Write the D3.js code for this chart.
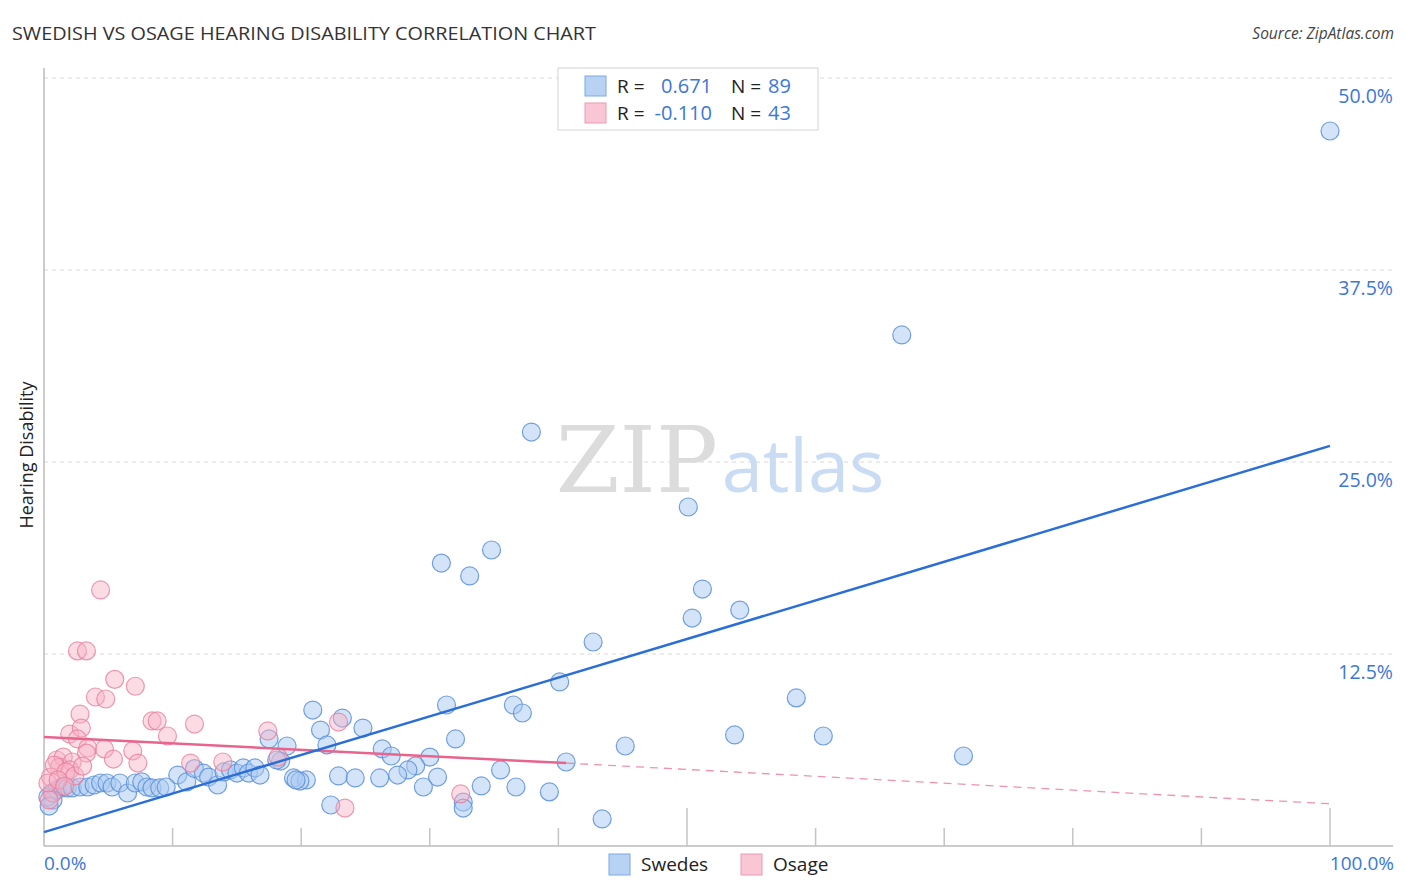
<!DOCTYPE html>
<html>
<head>
<meta charset="utf-8">
<script src="https://cdn.jsdelivr.net/npm/d3@7"></script>
<style>
  body { margin: 0; background: #fff; font-family: "Open Sans", "Noto Sans", sans-serif; }
  .grid line { stroke: #d8d8d8; stroke-dasharray: 4 4; }
</style>
</head>
<body>
<div id="chart"></div>
<script>
// Swedes: [x %, hearing disability %]
const swedes = [
  [100, 46.55], [66.7, 33.27], [37.9, 26.95], [50.1, 22.07], [34.8, 19.27], [30.9, 18.42],
  [33.1, 17.58], [51.2, 16.73], [54.1, 15.36], [50.4, 14.84], [42.7, 13.28], [40.1, 10.68],
  [58.5, 9.64], [31.3, 9.18], [36.5, 9.18], [37.2, 8.66], [20.9, 8.85], [23.2, 8.33],
  [24.8, 7.68], [21.5, 7.55], [53.7, 7.23], [60.6, 7.16], [32.0, 6.97], [17.5, 6.97],
  [18.9, 6.51], [22.0, 6.58], [45.2, 6.51], [26.3, 6.32], [27.0, 5.86], [30.0, 5.79],
  [71.5, 5.86], [40.6, 5.47], [18.4, 5.53], [28.9, 5.21], [28.3, 4.95], [35.5, 4.95],
  [27.5, 4.62], [22.9, 4.56], [24.2, 4.43], [26.1, 4.43], [30.6, 4.49], [19.4, 4.43],
  [20.4, 4.30], [19.9, 4.23], [22.3, 2.67], [29.5, 3.84], [34.0, 3.91], [36.7, 3.84],
  [39.3, 3.52], [32.6, 2.86], [32.6, 2.47], [43.4, 1.76],
  [10.4, 4.62], [11.1, 4.17], [11.7, 5.04], [12.4, 4.75], [12.8, 4.49], [13.5, 3.97],
  [14.0, 4.82], [14.5, 4.95], [15.0, 4.75], [15.5, 5.08], [15.9, 4.75], [16.4, 5.08],
  [16.8, 4.62], [18.1, 5.60], [19.6, 4.30], [0.6, 3.45], [1.0, 3.65], [1.4, 3.84],
  [1.8, 3.78], [2.2, 3.78], [2.8, 3.84], [3.4, 3.84], [3.9, 3.97], [4.4, 4.10],
  [4.9, 4.10], [5.3, 3.84], [5.9, 4.10], [6.5, 3.45], [7.1, 4.10], [7.6, 4.17],
  [8.0, 3.84], [8.4, 3.78], [9.0, 3.78], [9.5, 3.84], [0.7, 2.99], [0.3, 3.19], [0.4, 2.60]
];

// Osage: [x %, hearing disability %]
const osage = [
  [4.4, 16.67], [2.6, 12.7], [3.3, 12.7], [5.5, 10.85], [7.1, 10.4], [4.0, 9.7],
  [4.8, 9.57], [2.8, 8.59], [8.4, 8.14], [8.8, 8.14], [11.7, 7.94], [9.6, 7.16],
  [2.0, 7.29], [2.9, 7.68], [2.6, 6.97], [3.4, 6.38], [3.3, 6.05], [4.7, 6.32],
  [5.4, 5.66], [6.9, 6.19], [7.3, 5.40], [1.0, 5.60], [1.5, 5.79], [1.2, 5.14],
  [2.2, 5.47], [2.0, 4.95], [0.5, 4.49], [0.7, 3.45], [17.4, 7.49], [22.9, 8.07],
  [18.2, 5.79], [11.4, 5.40], [13.9, 5.47], [23.4, 2.47], [32.4, 3.39], [0.3, 4.10],
  [0.8, 5.27], [1.7, 4.82], [2.4, 4.56], [0.4, 3.00], [1.1, 4.30], [3.0, 5.20], [1.6, 3.90]
];

// trend lines: [x0, y0, x1, y1]
const swedesTrend = [0, 0.9, 100, 26.05];
const osageTrendSolid = [0, 7.1, 40.6, 5.4];
const osageTrendDashed = [40.6, 5.4, 100, 2.75];

const yTicks = [12.5, 25, 37.5, 50];
const xMajorTicks = [0, 50, 100];
const xMinorTicks = [10, 20, 30, 40, 60, 70, 80, 90];

const legendRows = [
  { name: "Swedes", r: "0.671", n: "89" },
  { name: "Osage", r: "-0.110", n: "43" }
];

const W = 1406, H = 892;
const blueFill = "#a9c9f2", blueStroke = "#5a8fdc", blueLine = "#2b6fd6";
const pinkFill = "#f6b2c6", pinkStroke = "#e9809f", pinkLine = "#e8648c";
const valueBlue = "#3b78d6";

const svg = d3.select("#chart").append("svg").attr("width", W).attr("height", H);

const x = d3.scaleLinear().domain([0, 100]).range([44, 1330]);
const y = d3.scaleLinear().domain([0, 50]).range([846, 78]);

// title and source
svg.append("text").attr("x", 12).attr("y", 40)
  .attr("textLength", 584).attr("lengthAdjust", "spacingAndGlyphs")
  .style("font-size", "18px").style("fill", "#333")
  .text("SWEDISH VS OSAGE HEARING DISABILITY CORRELATION CHART");
svg.append("text").attr("x", 1394).attr("y", 39).attr("text-anchor", "end")
  .style("font-size", "15.5px").style("font-style", "italic").style("fill", "#444")
  .text("Source: ZipAtlas.com");

// gridlines
svg.append("g").attr("class", "grid")
  .selectAll("line").data(yTicks).join("line")
  .attr("x1", 44).attr("x2", 1393)
  .attr("y1", d => y(d)).attr("y2", d => y(d));

// y tick labels on the right
svg.append("g").selectAll("text").data(yTicks).join("text")
  .attr("x", 1393).attr("y", d => y(d) + 25).attr("text-anchor", "end")
  .style("font-size", "19.5px").style("fill", valueBlue)
  .text(d => d.toFixed(1) + "%");

// watermark
const wm = svg.append("text").attr("x", 720).attr("y", 492).attr("text-anchor", "middle");
wm.append("tspan").style("font-family", "'DejaVu Serif', 'Liberation Serif', serif")
  .style("font-size", "92px").style("fill", "#dcdcdc").text("ZIP");
wm.append("tspan").style("font-size", "74px").style("fill", "#c9dcf3").attr("dx", 4).text("atlas");

// axes lines
svg.append("line").attr("x1", 44).attr("x2", 44).attr("y1", 68).attr("y2", 846)
  .style("stroke", "#bbb").style("stroke-width", 1.5);
svg.append("line").attr("x1", 44).attr("x2", 1393).attr("y1", 846).attr("y2", 846)
  .style("stroke", "#bbb").style("stroke-width", 1.5);
svg.append("g").selectAll("line").data(xMinorTicks).join("line")
  .attr("x1", d => x(d)).attr("x2", d => x(d)).attr("y1", 828).attr("y2", 846)
  .style("stroke", "#c4c4c4").style("stroke-width", 1.5);
svg.append("g").selectAll("line").data(xMajorTicks.slice(1)).join("line")
  .attr("x1", d => x(d)).attr("x2", d => x(d)).attr("y1", 808).attr("y2", 846)
  .style("stroke", "#c4c4c4").style("stroke-width", 1.5);

// x labels
svg.append("text").attr("x", 44).attr("y", 870)
  .style("font-size", "19px").style("fill", valueBlue).text("0.0%");
svg.append("text").attr("x", 1394).attr("y", 870).attr("text-anchor", "end")
  .style("font-size", "19px").style("fill", valueBlue).text("100.0%");

// y axis title
svg.append("text").attr("transform", "translate(33,455) rotate(-90)")
  .attr("text-anchor", "middle").style("font-size", "18px").style("fill", "#222")
  .text("Hearing Disability");

// points
svg.append("g").selectAll("circle").data(swedes).join("circle")
  .attr("cx", d => x(d[0])).attr("cy", d => y(d[1])).attr("r", 9)
  .style("fill", blueFill).style("fill-opacity", 0.5)
  .style("stroke", blueStroke).style("stroke-width", 1.2).style("stroke-opacity", 0.85);

svg.append("g").selectAll("circle").data(osage).join("circle")
  .attr("cx", d => x(d[0])).attr("cy", d => y(d[1])).attr("r", 9)
  .style("fill", pinkFill).style("fill-opacity", 0.45)
  .style("stroke", pinkStroke).style("stroke-width", 1.2).style("stroke-opacity", 0.8);

// trend lines
const drawTrend = (t, color, width, dash) => svg.append("line")
  .attr("x1", x(t[0])).attr("y1", y(t[1])).attr("x2", x(t[2])).attr("y2", y(t[3]))
  .style("stroke", color).style("stroke-width", width)
  .style("stroke-dasharray", dash);

drawTrend(osageTrendDashed, pinkLine, 1.3, "8 6").style("stroke-opacity", 0.7);
drawTrend(osageTrendSolid, pinkLine, 2.5, null);
drawTrend(swedesTrend, blueLine, 2.5, null);

// top legend
const lg = svg.append("g");
lg.append("rect").attr("x", 558).attr("y", 68).attr("width", 260).attr("height", 62)
  .style("fill", "#fff").style("stroke", "#d4d4d4");
legendRows.forEach((row, i) => {
  const cy = 86 + i * 27;
  lg.append("rect").attr("x", 585).attr("y", cy - 10).attr("width", 21).attr("height", 20)
    .style("fill", i === 0 ? "#b8d2f4" : "#f8c6d5")
    .style("stroke", i === 0 ? "#7ea8e4" : "#ec9ab2");
  lg.append("text").attr("x", 617).attr("y", cy + 7).style("font-size", "19px").style("fill", "#222").text("R =");
  lg.append("text").attr("x", 712).attr("y", cy + 7).attr("text-anchor", "end")
    .style("font-size", "20px").style("fill", valueBlue).text(row.r);
  lg.append("text").attr("x", 731).attr("y", cy + 7).style("font-size", "19px").style("fill", "#222").text("N =");
  lg.append("text").attr("x", 768).attr("y", cy + 7).style("font-size", "20px").style("fill", valueBlue).text(row.n);
});

// bottom legend
const bl = svg.append("g");
const blX = [609, 741];
legendRows.forEach((row, i) => {
  bl.append("rect").attr("x", blX[i]).attr("y", 854).attr("width", 21).attr("height", 21)
    .style("fill", i === 0 ? "#b8d2f4" : "#f8c6d5")
    .style("stroke", i === 0 ? "#7ea8e4" : "#ec9ab2");
  bl.append("text").attr("x", blX[i] + 32).attr("y", 871)
    .style("font-size", "19px").style("fill", "#222").text(row.name);
});
</script>
</body>
</html>
